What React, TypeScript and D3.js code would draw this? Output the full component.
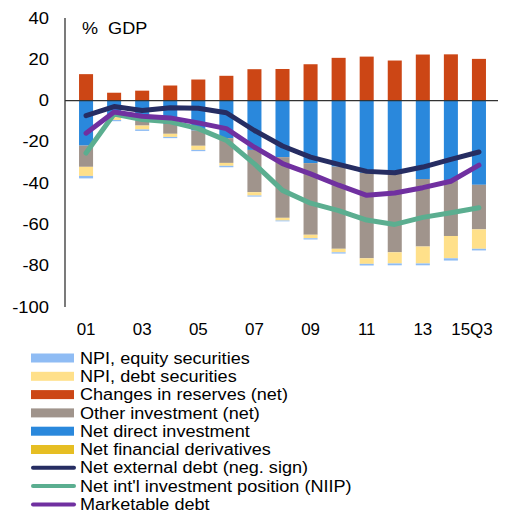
import React from "react";
import * as d3 from "d3";

const categories = ["01", "02", "03", "04", "05", "06", "07", "08", "09", "10", "11", "12", "13", "14", "15Q3"];

// bars (% of GDP)
const reserves = [12.8, 3.8, 4.8, 7.3, 10.2, 12.0, 15.2, 15.3, 17.6, 20.7, 21.3, 19.4, 22.3, 22.4, 20.2];
const derivatives = [0, 0, 0, 0, 0, 0, 0, 0, 0, 0, 0, 0, 0, 0, 0];
const directInv = [-21.8, -6.5, -9.7, -11.3, -14.5, -18.2, -23.9, -27.4, -30.3, -32.0, -35.0, -35.6, -38.0, -38.7, -40.8];
const otherInv = [-10.3, -1.5, -2.4, -4.8, -7.4, -12.0, -20.5, -29.4, -34.7, -39.8, -41.4, -37.9, -32.7, -26.9, -21.6];
const debtSec = [-4.4, -1.4, -1.9, -1.5, -2.0, -1.4, -1.6, -1.3, -1.7, -1.7, -2.7, -5.4, -8.2, -10.8, -9.4];
const equitySec = [-1.2, -0.6, -0.7, -0.6, -0.6, -0.7, -0.5, -0.4, -0.6, -0.6, -0.8, -0.9, -0.9, -1.1, -0.8];

// lines
const extDebt = [-7.3, -2.9, -4.8, -3.5, -3.7, -5.9, -14.5, -22.0, -27.4, -30.9, -34.3, -35.0, -32.2, -28.5, -24.9];
const niip = [-25.4, -6.5, -9.2, -10.3, -13.6, -19.3, -30.7, -43.5, -49.7, -53.3, -57.9, -60.0, -56.6, -54.3, -51.9];
const marketable = [-15.8, -5.5, -7.6, -8.4, -10.8, -13.6, -22.6, -30.5, -35.5, -41.0, -45.9, -44.8, -42.2, -39.1, -31.3];

const yTicks = [40, 20, 0, -20, -40, -60, -80, -100];

const FONT = "'Liberation Sans', Arial, sans-serif";
// text in the original looks a bit wider than a plain 16px Arial
const WIDE = 1.13;

const C = {
  equity: "#8fbcf4",
  debt: "#ffe08a",
  reserves: "#cc4615",
  other: "#a0948c",
  direct: "#2a88dc",
  deriv: "#e6be23",
  ext: "#262d62",
  niip: "#5bae90",
  mkt: "#7030a0",
};

const legend = [
  { label: "NPI, equity securities", color: C.equity, line: false },
  { label: "NPI, debt securities", color: C.debt, line: false },
  { label: "Changes in reserves (net)", color: C.reserves, line: false },
  { label: "Other investment (net)", color: C.other, line: false },
  { label: "Net direct investment", color: C.direct, line: false },
  { label: "Net financial derivatives", color: C.deriv, line: false },
  { label: "Net external debt (neg. sign)", color: C.ext, line: true },
  { label: "Net int'l investment position (NIIP)", color: C.niip, line: true },
  { label: "Marketable debt", color: C.mkt, line: true },
];

const Label = ({ x, y, anchor = "start", sx = WIDE, children }: any) => (
  <text
    transform={`translate(${x},${y}) scale(${sx},1)`}
    dy="0.35em"
    textAnchor={anchor}
    fontSize={16}
    fill="#000"
    style={{ whiteSpace: "pre" }}
  >
    {children}
  </text>
);

export default function App() {
  const x = d3.scaleBand<string>().domain(categories).range([65, 500]).padding(0.5);
  const y = d3.scaleLinear().domain([-100, 40]).range([307, 18]);

  const rows = categories.map((c, i) => ({
    cat: c,
    reserves: reserves[i],
    derivatives: derivatives[i],
    direct: directInv[i],
    other: otherInv[i],
    debt: debtSec[i],
    equity: equitySec[i],
  }));
  const keys = ["reserves", "derivatives", "direct", "other", "debt", "equity"];
  const colorOf: Record<string, string> = {
    reserves: C.reserves,
    derivatives: C.deriv,
    direct: C.direct,
    other: C.other,
    debt: C.debt,
    equity: C.equity,
  };
  const series = d3.stack<any>().keys(keys).offset(d3.stackOffsetDiverging)(rows);

  const cx = (c: string) => (x(c) ?? 0) + x.bandwidth() / 2;
  const line = d3
    .line<number>()
    .x((_, i) => cx(categories[i]))
    .y((d) => y(d));

  return (
    <svg width={508} height={515} style={{ position: "absolute", left: 0, top: 0, background: "#fff" }} fontFamily={FONT}>
      {series.map((s) => (
        <g key={s.key} fill={colorOf[s.key]}>
          {s.map((d, i) => (
            <rect
              key={i}
              x={x(categories[i])}
              width={x.bandwidth()}
              y={y(Math.max(d[0], d[1]))}
              height={Math.abs(y(d[0]) - y(d[1]))}
            />
          ))}
        </g>
      ))}

      <line x1={65} x2={498} y1={y(0)} y2={y(0)} stroke="#333" strokeWidth={1.3} />
      <line x1={65} x2={65} y1={18} y2={307} stroke="#333" strokeWidth={1.3} />

      {[
        { data: niip, color: C.niip },
        { data: extDebt, color: C.ext },
        { data: marketable, color: C.mkt },
      ].map((l, i) => (
        <path key={i} d={line(l.data) ?? ""} fill="none" stroke={l.color} strokeWidth={5} strokeLinecap="round" strokeLinejoin="round" />
      ))}

      {yTicks.map((t) => (
        <Label key={t} x={49} y={y(t)} anchor="end" sx={1.15}>
          {t}
        </Label>
      ))}
      <Label x={82} y={28}>{"%  GDP"}</Label>

      {categories.map((c, i) =>
        i % 2 === 0 ? (
          <Label key={c} x={i === categories.length - 1 ? cx(c) - 7 : cx(c)} y={329} anchor="middle" sx={1.06}>
            {c}
          </Label>
        ) : null
      )}

      {legend.map((l, i) => {
        const cy = 358 + i * 18.3;
        return (
          <g key={l.label}>
            {l.line ? (
              <line x1={33} x2={74} y1={cy} y2={cy} stroke={l.color} strokeWidth={4} strokeLinecap="round" />
            ) : (
              <rect x={31} y={cy - 4.5} width={43} height={9} fill={l.color} />
            )}
            <Label x={80} y={cy}>{l.label}</Label>
          </g>
        );
      })}
    </svg>
  );
}
